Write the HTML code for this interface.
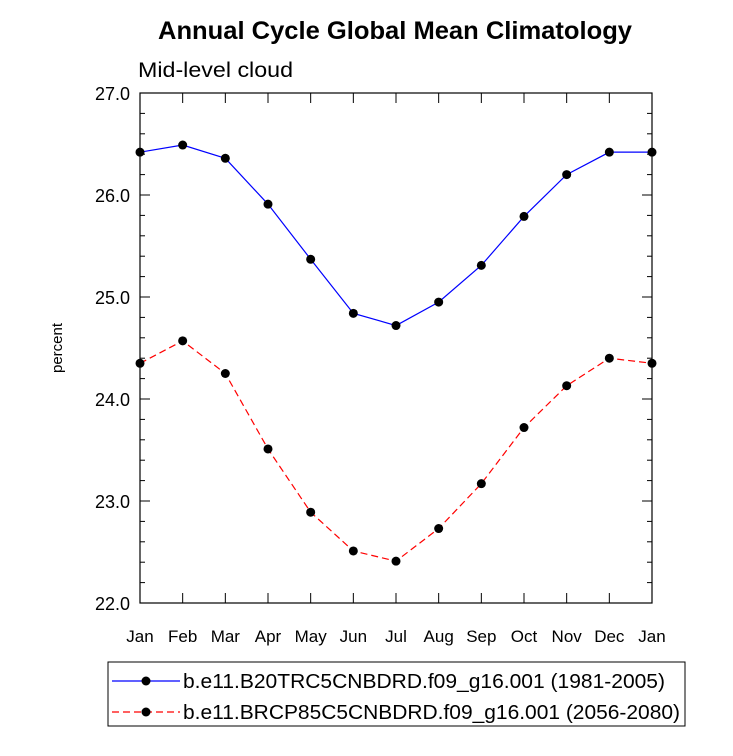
<!DOCTYPE html>
<html><head><meta charset="utf-8"><style>
body{margin:0;background:#fff;}
svg text{font-family:"Liberation Sans",Arial,sans-serif;}
</style></head><body>
<svg id="chart" width="733" height="751" viewBox="0 0 733 751">
<text x="158" y="39" font-size="25" font-weight="bold" textLength="474" lengthAdjust="spacingAndGlyphs">Annual Cycle Global Mean Climatology</text>
<text x="138" y="77" font-size="21" textLength="155" lengthAdjust="spacingAndGlyphs">Mid-level cloud</text>
<text transform="translate(62,348) rotate(-90)" text-anchor="middle" font-size="15">percent</text>
<g id="axes"></g>
<g id="series"></g>
<g>
<rect x="108" y="662" width="577" height="64" fill="#fff" stroke="#000" stroke-width="1"/>
<g>
<line x1="112" y1="681" x2="180" y2="681" stroke="#0000ff" stroke-width="1.2"/>
<circle cx="146" cy="681" r="4.5" fill="#000"/>
<text x="183" y="688" font-size="20" textLength="482" lengthAdjust="spacingAndGlyphs">b.e11.B20TRC5CNBDRD.f09_g16.001 (1981-2005)</text>
</g>
<g>
<line x1="112" y1="712" x2="180" y2="712" stroke="#ff0000" stroke-width="1.2" stroke-dasharray="7,4"/>
<circle cx="146" cy="712" r="4.5" fill="#000"/>
<text x="183" y="719" font-size="20" textLength="497" lengthAdjust="spacingAndGlyphs">b.e11.BRCP85C5CNBDRD.f09_g16.001 (2056-2080)</text>
</g>
</g>
</svg>
<script>
const months=["Jan","Feb","Mar","Apr","May","Jun","Jul","Aug","Sep","Oct","Nov","Dec","Jan"];
const histValues=[26.42,26.49,26.36,25.91,25.37,24.84,24.72,24.95,25.31,25.79,26.20,26.42,26.42];
const rcpValues=[24.35,24.57,24.25,23.51,22.89,22.51,22.41,22.73,23.17,23.72,24.13,24.40,24.35];
const yTicks=[22.0,23.0,24.0,25.0,26.0,27.0];
const L=140,R=652,T=93,B=603,yMin=22,yMax=27;
const xs=i=>L+(R-L)*i/(months.length-1);
const ys=v=>B-(v-yMin)/(yMax-yMin)*(B-T);
const NS="http://www.w3.org/2000/svg";
function mk(tag,attrs,parent){const e=document.createElementNS(NS,tag);for(const k in attrs)e.setAttribute(k,attrs[k]);parent.appendChild(e);return e;}
const ax=document.getElementById('axes');
const frame=mk('rect',{x:L,y:T,width:R-L,height:B-T,fill:'none',stroke:'#000','stroke-width':1.2},ax);


months.forEach((m,i)=>{
  const x=xs(i);
  mk('line',{x1:x,y1:B,x2:x,y2:B-10,stroke:'#000'},ax);
  mk('line',{x1:x,y1:T,x2:x,y2:T+10,stroke:'#000'},ax);
  const t=mk('text',{x:x,y:B+39,'text-anchor':'middle','font-size':17},ax);
  t.textContent=m;
  
  
});
for(let v=yMin;v<=yMax+1e-9;v+=0.2){
  const y=ys(v);const major=Math.abs(v-Math.round(v))<1e-6;const len=major?10:5;
  mk('line',{x1:L,y1:y,x2:L+len,y2:y,stroke:'#000'},ax);
  mk('line',{x1:R,y1:y,x2:R-len,y2:y,stroke:'#000'},ax);
}
yTicks.forEach(v=>{
  const t=mk('text',{x:L-10,y:ys(v)+7,'text-anchor':'end','font-size':18},ax);
  t.textContent=v.toFixed(1);
  
  
});
const sg=document.getElementById('series');
function drawSeries(vals,color,dash,name){
  const g=mk('g',{},sg);
  
  
  const pts=vals.map((v,i)=>xs(i)+','+ys(v)).join(' ');
  const attrs={points:pts,fill:'none',stroke:color,'stroke-width':1.2};
  if(dash)attrs['stroke-dasharray']=dash;
  mk('polyline',attrs,g);
  vals.forEach((v,i)=>{
    const c=mk('circle',{cx:xs(i),cy:ys(v),r:4.5,fill:'#000'},g);
    
    
  });
}
drawSeries(histValues,'#0000ff',null,'series-historical');
drawSeries(rcpValues,'#ff0000','7,4','series-rcp85');
</script>
</body></html>
